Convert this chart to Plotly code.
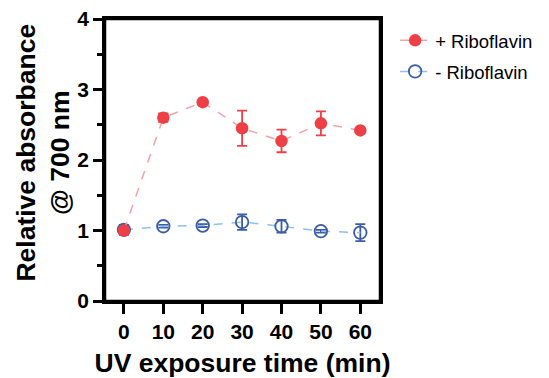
import plotly.graph_objects as go

time_min = [0, 10, 20, 30, 40, 50, 60]
plus_ribo = [1.00, 2.60, 2.82, 2.45, 2.27, 2.52, 2.42]
plus_err = [0.05, 0.06, 0.02, 0.25, 0.16, 0.17, 0.02]
minus_ribo = [1.01, 1.06, 1.07, 1.12, 1.06, 0.99, 0.97]
minus_err = [0.07, 0.02, 0.02, 0.11, 0.09, 0.02, 0.12]
y_ticks = [0, 1, 2, 3, 4]
y_minor = [0.5, 1.5, 2.5, 3.5]

RED = "#ef3f46"
RED_LINE = "#f5a3a6"
BLUE = "#3b5ca8"
BLUE_LINE = "#8fc1ec"
FONT = "Liberation Sans, Arial, sans-serif"

fig = go.Figure()
fig.add_trace(go.Scatter(
    x=time_min, y=minus_ribo, name="- Riboflavin", mode="lines+markers",
    legendgroup="b", legendrank=2,
    line=dict(color=BLUE_LINE, width=1.5, dash="dash"),
    marker=dict(symbol="circle-open", size=12.5, color=BLUE, line=dict(width=1.8, color=BLUE)),
    error_y=dict(type="data", array=minus_err, color=BLUE, thickness=1.8, width=5),
))
fig.add_trace(go.Scatter(
    x=time_min, y=plus_ribo, name="+ Riboflavin", mode="lines+markers",
    legendgroup="a", legendrank=1,
    line=dict(color=RED_LINE, width=1.5, dash="dash"),
    marker=dict(symbol="circle", size=12.5, color=RED),
    error_y=dict(type="data", array=plus_err, color=RED, thickness=1.8, width=5),
))

fig.update_layout(
    width=541, height=370,
    margin=dict(l=97, r=161, t=11, b=76.5),
    plot_bgcolor="white", paper_bgcolor="white",
    font=dict(family=FONT, color="black"),
    showlegend=True,
    legend=dict(x=1.055, y=0.99, xanchor="left", yanchor="top", traceorder="grouped",
                font=dict(size=18.5, color="black"), bgcolor="rgba(0,0,0,0)",
                itemwidth=30, tracegroupgap=4),
    shapes=[dict(type="rect", xref="paper", yref="paper", x0=0, y0=0, x1=1, y1=1,
                 line=dict(color="black", width=2.5), layer="above")],
    annotations=[dict(text="<b>Relative absorbance<br>@ 700 nm</b>", textangle=-90,
                      xref="paper", yref="paper", x=-0.2244, y=0.5274,
                      xanchor="center", yanchor="middle", showarrow=False,
                      font=dict(size=26.5, color="black", family=FONT))],
)
fig.update_xaxes(
    range=[-4.8, 65], tickvals=time_min, ticktext=["<b>%d</b>" % t for t in time_min],
    showline=True, linecolor="black", linewidth=2.5, mirror=True, automargin=False,
    ticks="outside", ticklen=10, tickwidth=2.5, tickcolor="black",
    ticklabeloverflow="allow",
    showgrid=False, zeroline=False,
    tickfont=dict(size=21, family=FONT, color="black"),
    title=dict(text="<b>UV exposure time (min)</b>", font=dict(size=26.5), standoff=12),
)
fig.update_yaxes(
    range=[0, 4], tickvals=y_ticks, ticktext=["<b>%d</b>" % t for t in y_ticks],
    showline=True, linecolor="black", linewidth=2.5, mirror=True, automargin=False,
    ticks="outside", ticklen=9, tickwidth=2.5, tickcolor="black",
    ticklabeloverflow="allow",
    minor=dict(tickvals=y_minor, ticks="outside", ticklen=5, tickwidth=2.5, tickcolor="black"),
    showgrid=False, zeroline=False,
    tickfont=dict(size=21, color="black"),
)
fig.write_html("out.html")
